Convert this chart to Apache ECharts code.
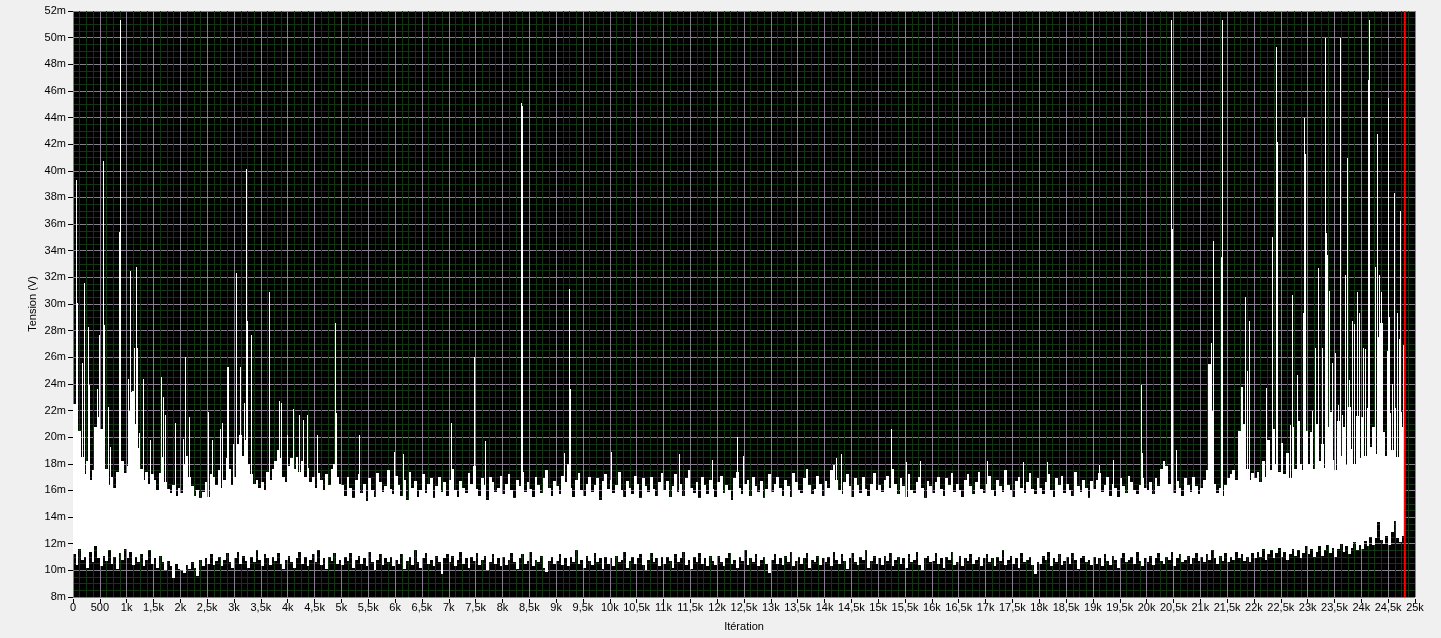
<!DOCTYPE html>
<html><head><meta charset="utf-8">
<script src="https://cdn.jsdelivr.net/npm/echarts@6/dist/echarts.min.js"></script>
<style>html,body{margin:0;padding:0;background:#f0f0f0;}#c{width:1441px;height:638px;}</style>
</head><body><div id="c"></div>
<script>
// bin width in iterations; each bin holds the min (lo) and max (hi) of the signal, in mV
const BIN = 50;
const hi = [
22.5,17.5,20.5,18.5,17.2,18.2,16.8,17.5,20.8,21.5,20.6,19.0,17.6,16.4,17.0,16.2,17.4,20.0,18.2,17.3,
17.8,22.0,23.5,21.0,19.2,17.6,16.8,17.4,16.5,17.2,16.8,16.0,17.3,18.5,16.6,16.1,15.8,16.4,15.6,16.2,
15.8,18.0,18.6,17.0,16.3,15.6,16.0,15.4,15.9,16.6,15.5,17.2,17.0,16.4,17.5,16.2,16.8,18.4,17.6,16.4,
17.0,19.5,20.2,18.6,19.8,18.0,17.2,16.5,16.8,16.2,16.6,16.0,17.4,16.8,17.6,18.2,19.0,18.4,17.0,16.6,
17.8,18.4,17.6,18.5,17.4,18.2,17.0,17.7,16.6,17.0,16.2,17.3,16.8,16.0,17.2,16.4,17.6,18.0,17.0,16.5,
16.4,15.6,17.0,16.2,15.4,16.8,17.2,15.8,16.5,15.2,16.9,16.0,15.5,17.3,16.6,15.9,16.3,17.5,16.1,15.7,
17.1,16.4,15.6,16.8,15.3,17.4,16.2,16.7,15.5,16.0,17.2,15.8,16.5,16.9,15.4,16.3,17.0,15.9,16.6,15.6,
16.8,17.6,16.0,15.5,16.7,16.2,15.8,17.3,16.5,17.8,16.1,15.6,16.9,16.4,15.3,17.0,16.6,15.9,16.2,17.1,
15.7,16.5,17.2,16.0,15.4,16.8,16.3,17.4,15.9,16.6,16.1,15.5,17.0,16.4,15.8,16.9,17.5,16.2,15.6,16.7,
16.3,15.7,17.1,16.6,18.0,16.2,15.5,16.8,17.3,16.0,15.6,16.5,17.0,15.9,16.4,16.9,15.3,16.7,17.2,16.1,
16.8,15.8,16.4,17.4,16.0,15.5,16.7,16.2,15.7,17.1,16.5,15.4,16.9,16.3,15.9,17.0,16.1,15.6,16.6,17.3,
16.0,16.7,15.5,16.3,17.2,15.9,16.5,15.6,16.9,17.5,16.2,15.8,16.6,15.4,17.0,16.4,15.7,16.8,16.1,15.5,
16.6,17.1,15.8,16.4,16.0,15.3,16.9,17.4,16.2,15.7,16.5,16.8,15.6,17.0,16.3,15.9,16.7,15.4,16.1,17.2,
15.9,16.5,17.0,16.2,15.6,16.8,16.3,15.5,17.3,16.6,16.0,15.8,16.9,17.6,16.4,15.7,16.1,17.1,16.5,15.6,
16.7,16.2,17.5,17.9,16.8,16.0,15.7,16.6,17.2,16.3,15.5,16.9,16.4,15.8,17.0,16.1,15.6,16.5,17.3,16.0,
16.4,15.9,16.8,17.1,16.2,17.6,16.5,15.7,16.9,16.3,15.5,17.2,16.0,15.8,16.6,17.0,16.2,15.4,16.7,16.3,
15.8,16.6,17.0,16.1,15.6,16.9,16.4,17.3,15.9,16.5,16.0,15.5,16.8,17.2,16.3,15.7,16.6,17.4,16.1,15.8,
16.5,17.1,16.0,15.6,16.8,16.3,15.9,17.5,16.4,16.0,15.5,16.7,17.0,16.2,15.8,16.6,17.3,16.1,15.7,16.9,
16.2,15.7,16.6,17.2,16.0,15.5,16.9,16.4,17.1,15.8,16.5,16.0,15.6,17.4,16.3,15.9,16.8,16.2,15.4,16.7,
16.1,16.8,17.3,15.9,16.4,17.0,15.6,16.5,16.2,15.5,16.9,16.3,15.8,17.1,16.6,16.0,15.7,16.4,16.9,16.2,
16.0,16.6,15.7,16.9,16.3,17.6,18.2,17.8,16.5,16.0,15.8,16.7,16.2,15.6,16.9,16.4,15.9,17.0,16.3,15.7,
16.2,16.8,17.5,25.5,22.0,16.5,15.8,16.2,15.6,16.4,16.9,17.2,17.5,16.8,20.5,23.8,21.0,17.6,16.8,17.3,
16.9,17.4,16.6,18.2,17.0,19.8,17.5,20.6,18.0,17.4,19.6,17.2,18.8,16.9,20.8,17.6,21.2,18.0,17.5,20.5,
18.0,20.4,17.6,21.0,18.2,19.5,17.7,20.8,21.9,18.3,17.5,21.2,18.6,20.8,17.9,22.3,19.1,18.0,21.6,18.4,
21.5,18.6,22.2,19.3,20.8,18.7,27.5,28.6,20.4,18.6,21.8,19.0,22.2,18.5,21.9,20.8
];
const lo = [
11.2,10.4,11.6,10.8,11.0,10.2,11.4,10.6,11.8,10.9,10.3,11.1,10.7,11.5,10.5,11.0,10.1,11.3,10.8,11.6,
10.9,11.4,10.4,11.0,10.6,11.2,10.3,10.8,11.5,10.5,10.9,10.2,11.1,10.6,10.0,10.7,10.3,9.4,10.5,10.1,
10.0,9.8,10.4,10.1,10.6,10.2,9.6,10.8,10.3,10.9,10.5,11.2,10.4,10.7,11.0,10.3,10.8,11.3,10.6,10.2,
10.9,11.4,10.5,11.1,10.7,10.2,11.0,10.6,11.5,10.8,10.3,11.2,10.9,10.4,11.0,10.7,11.3,10.5,10.1,10.8,
11.1,10.6,10.2,10.9,11.4,10.5,11.0,10.3,10.8,11.2,10.6,11.5,10.4,10.9,10.1,11.0,10.7,11.3,10.5,10.8,
10.4,11.0,10.7,11.3,10.2,10.8,11.1,10.5,10.9,10.3,11.4,10.6,10.0,10.8,11.2,10.4,10.9,10.6,11.0,10.3,
10.8,10.5,11.2,10.1,10.7,11.0,10.4,11.5,10.6,10.2,10.9,11.3,10.5,10.8,10.3,11.1,10.6,9.7,10.9,11.2,
10.6,11.1,10.3,10.8,11.4,10.5,10.9,10.2,11.0,10.7,11.3,10.4,10.8,11.1,10.0,10.6,11.2,10.5,10.9,10.3,
11.0,10.4,10.8,11.3,10.6,10.1,10.9,11.2,10.5,10.7,11.4,10.3,10.8,10.6,11.1,10.2,9.9,10.7,11.0,10.5,
10.7,11.2,10.4,10.9,10.3,11.0,10.6,11.5,10.5,10.8,10.2,11.1,10.7,10.4,11.3,10.6,10.9,10.1,11.0,10.5,
10.9,10.3,11.1,10.6,10.8,11.4,10.2,10.7,11.0,10.5,10.9,11.2,10.4,10.0,10.8,11.3,10.6,10.9,10.3,11.0,
10.5,11.0,10.7,10.2,11.2,10.6,10.9,11.4,10.4,10.8,10.1,11.0,10.6,11.3,10.5,10.9,10.3,11.1,10.7,10.4,
11.1,10.6,10.3,10.9,11.3,10.5,10.8,10.2,11.0,10.7,11.5,10.4,10.9,10.6,11.2,10.3,10.8,11.0,10.5,9.8,
10.8,11.2,10.5,10.9,10.4,11.1,10.6,11.4,10.3,10.7,11.0,10.5,10.9,11.3,10.2,10.8,10.6,11.1,10.4,10.9,
10.6,11.0,10.3,11.4,10.8,10.5,11.2,10.7,10.1,10.9,11.3,10.6,10.4,11.0,10.8,11.5,10.2,10.7,11.1,10.5,
10.9,10.4,11.1,10.7,11.3,10.3,10.8,11.0,10.5,10.9,10.2,11.2,10.6,10.8,11.4,10.4,10.0,10.9,11.1,10.6,
10.7,11.3,10.5,10.9,10.2,11.0,10.8,11.4,10.4,10.6,11.1,10.3,10.9,10.7,11.2,10.5,10.8,11.0,10.3,10.9,
11.2,10.6,10.9,10.3,11.0,10.7,11.5,10.4,10.8,11.1,10.5,10.9,10.2,11.3,10.6,10.8,11.0,10.4,9.7,10.6,
10.5,11.1,10.8,11.4,10.3,10.9,10.6,11.2,10.4,10.7,11.0,10.5,11.3,10.8,10.1,10.9,11.1,10.6,10.8,10.4,
11.0,10.5,10.9,10.3,11.2,10.7,10.4,11.1,10.8,10.2,10.9,11.3,10.6,10.8,11.0,10.5,11.4,10.7,10.3,10.9,
10.6,11.1,10.4,10.9,11.3,10.7,10.5,11.0,10.8,11.4,10.3,10.9,11.2,10.6,10.8,11.1,10.5,10.9,11.3,10.7,
11.0,10.6,11.2,10.8,11.5,10.9,10.5,11.1,10.7,11.3,10.6,11.0,10.8,11.4,10.9,11.2,10.7,11.0,10.6,11.3,
10.9,11.4,11.0,11.6,10.8,11.2,11.5,10.9,11.3,11.7,11.0,11.4,10.8,11.2,11.6,11.1,11.5,10.9,11.3,11.8,
11.2,11.6,11.0,11.4,11.8,11.1,11.5,11.9,11.3,11.7,11.0,11.6,12.0,11.4,11.8,11.2,11.7,12.1,11.5,11.9,
11.6,12.2,11.8,12.5,11.9,12.4,13.6,12.3,12.0,12.6,11.9,12.9,13.7,12.4,12.1,12.6
];
// narrow single-sample peaks: [iteration, mV]
const spikes = [
[56,39.3],[80,30.1],[162,25.6],[211,31.6],[286,28.3],[304,23.9],[441,23.6],[490,27.7],[565,40.7],[584,28.4],
[658,22.3],[690,19.3],[863,35.4],[882,51.3],[1018,24.4],[1068,32.5],[1086,23.4],[1143,26.7],[1180,32.8],[1198,26.7],
[1236,20.3],[1298,24.4],[1434,19.8],[1646,24.5],[1683,23.0],[1720,21.7],[1894,21.1],[2043,19.9],[2093,26.0],[2167,21.5],
[2521,21.9],[2596,19.8],[2739,20.6],[2770,21.1],[2863,25.3],[2882,25.3],[2975,19.5],[3043,32.3],[3117,25.3],[3185,22.6],
[3223,40.1],[3241,28.7],[3322,27.7],[3651,30.9],[3844,22.7],[3870,22.6],[3981,20.2],[4105,22.1],[4217,21.7],[4291,21.3],
[4366,21.7],[4552,20.2],[4881,28.6],[4900,21.8],[5322,20.2],
[5987,18.9],[6154,18.7],[7042,21.1],[7465,26.0],[7681,19.7],[8338,45.1],[8357,44.9],[9147,18.8],[9236,31.1],[9252,23.6],
[10023,18.9],[11295,18.7],[11911,18.3],[12365,20.0],[12476,18.6],[14214,18.4],[14313,18.7],[15245,20.6],[15513,18.1],[15780,18.2],
[17022,18.2],[17692,18.1],[18152,18.1],[19109,17.9],[19369,18.3],[19890,23.9],[19909,18.8],
[20450,51.3],[20468,35.6],[20555,19.0],[21207,27.1],[21244,34.7],[21381,33.5],[21400,51.3],[21697,20.5],[21840,30.5],[21865,25.0],
[21914,28.7],[22220,23.7],[22343,35.0],[22412,49.3],[22437,42.2],[22673,20.9],[22703,26.8],[22715,30.7],[22797,24.7],[22909,29.3],
[22939,44.0],[22958,41.3],[23076,22.0],[23144,26.7],[23200,32.7],[23262,26.7],[23325,50.0],[23340,35.3],[23368,33.7],[23393,31.0],
[23461,25.6],[23505,26.3],[23567,22.4],[23598,34.7],[23610,50.0],[23648,21.7],[23691,32.2],[23734,41.0],[23772,24.3],[23822,28.7],
[23865,28.5],[23927,30.9],[23964,29.3],[24039,26.7],[24076,26.6],[24132,46.8],[24150,51.3],[24256,32.8],[24299,42.8],[24324,32.2],
[24368,30.9],[24393,26.3],[24474,26.5],[24504,45.5],[24523,29.0],[24566,24.0],[24616,38.3],[24660,29.3],[24709,27.4],[24728,37.0],
[24772,26.9]
];
const cursorX = 24810;

const FONT = 'Liberation Sans';
const chart = echarts.init(document.getElementById('c'), null, {renderer: 'canvas'});
const bandData = hi.map((h, i) => [i * BIN, lo[i], h]);

chart.setOption({
  backgroundColor: '#f0f0f0',
  animation: false,
  grid: {left: 73, right: 26, top: 11, bottom: 41, show: true, backgroundColor: '#000000', borderWidth: 0},
  xAxis: {
    type: 'value', min: 0, max: 25000, interval: 500, offset: 2,
    name: 'Itération', nameLocation: 'middle', nameGap: 22,
    nameTextStyle: {color: '#000', fontFamily: FONT, fontSize: 11},
    axisLine: {show: false},
    axisTick: {show: true, length: 4, lineStyle: {color: '#000'}},
    axisLabel: {color: '#000', fontFamily: FONT, fontSize: 11, margin: 3,
      formatter: v => v < 1000 ? String(v) : String(v / 1000).replace('.', ',') + 'k'},
    splitLine: {show: true, lineStyle: {color: '#857e8b', width: 1}},
    minorTick: {show: false, splitNumber: 4},
    minorSplitLine: {show: true, lineStyle: {color: '#123512', width: 1}}
  },
  yAxis: {
    type: 'value', min: 8, max: 52, interval: 2, offset: 4,
    name: 'Tension (V)', nameLocation: 'middle', nameGap: 31, nameMoveOverlap: false,
    nameTextStyle: {color: '#000', fontFamily: FONT, fontSize: 11},
    axisLine: {show: false},
    axisTick: {show: true, length: 5, lineStyle: {color: '#000'}},
    axisLabel: {color: '#000', fontFamily: FONT, fontSize: 11, margin: 3, formatter: v => v + 'm'},
    splitLine: {show: true, lineStyle: {color: '#857e8b', width: 1}},
    minorTick: {show: false, splitNumber: 4},
    minorSplitLine: {show: true, lineStyle: {color: '#123512', width: 1}}
  },
  series: [
    {
      type: 'custom', silent: true, data: bandData,
      encode: {x: 0, y: [1, 2]},
      renderItem: function (params, api) {
        const s = api.value(0), l = api.value(1), h = api.value(2);
        const a = api.coord([s, l]), b = api.coord([s + BIN, h]);
        const x0 = Math.round(a[0]), x1 = Math.round(b[0]);
        const y0 = Math.round(b[1]), y1 = Math.round(a[1]);
        return {type: 'rect', shape: {x: x0, y: y0, width: x1 - x0, height: y1 - y0}, style: {fill: '#ffffff'}};
      }
    },
    {
      type: 'custom', silent: true, data: spikes,
      encode: {x: 0, y: 1},
      renderItem: function (params, api) {
        const x = api.value(0), v = api.value(1);
        const a = api.coord([x, 14]), b = api.coord([x, v]);
        const px = Math.round(a[0]);
        return {type: 'rect', shape: {x: px, y: Math.round(b[1]), width: 1, height: Math.round(a[1]) - Math.round(b[1])}, style: {fill: '#ffffff'}};
      }
    },
    {
      type: 'line', silent: true, symbol: 'none',
      data: [[cursorX, 8], [cursorX, 52]],
      lineStyle: {color: '#ff0000', width: 2}
    }
  ]
});
</script>
</body></html>
